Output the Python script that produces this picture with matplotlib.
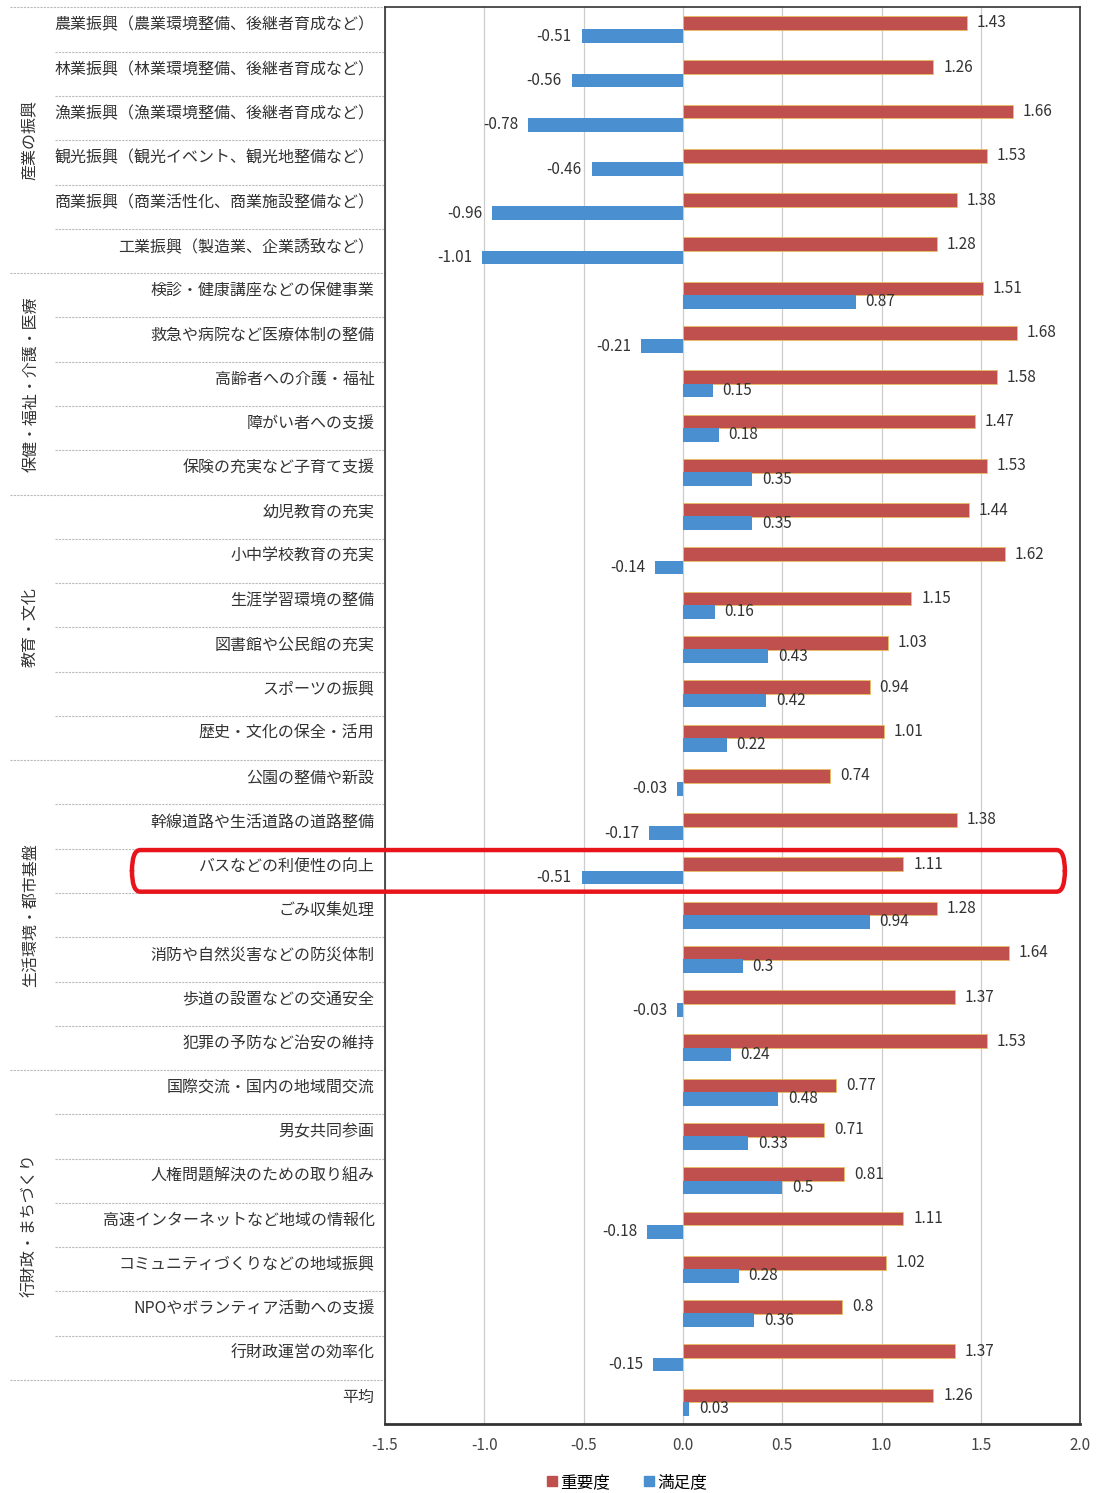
import numpy as np
import matplotlib.pyplot as plt
from matplotlib.patches import FancyBboxPatch, Patch
from matplotlib.transforms import blended_transform_factory

plt.rcParams['font.family'] = ['Noto Sans CJK JP', 'DejaVu Sans']

categories = [
    "農業振興（農業環境整備、後継者育成など）",
    "林業振興（林業環境整備、後継者育成など）",
    "漁業振興（漁業環境整備、後継者育成など）",
    "観光振興（観光イベント、観光地整備など）",
    "商業振興（商業活性化、商業施設整備など）",
    "工業振興（製造業、企業誘致など）",
    "検診・健康講座などの保健事業",
    "救急や病院など医療体制の整備",
    "高齢者への介護・福祉",
    "障がい者への支援",
    "保険の充実など子育て支援",
    "幼児教育の充実",
    "小中学校教育の充実",
    "生涯学習環境の整備",
    "図書館や公民館の充実",
    "スポーツの振興",
    "歴史・文化の保全・活用",
    "公園の整備や新設",
    "幹線道路や生活道路の道路整備",
    "バスなどの利便性の向上",
    "ごみ収集処理",
    "消防や自然災害などの防災体制",
    "歩道の設置などの交通安全",
    "犯罪の予防など治安の維持",
    "国際交流・国内の地域間交流",
    "男女共同参画",
    "人権問題解決のための取り組み",
    "高速インターネットなど地域の情報化",
    "コミュニティづくりなどの地域振興",
    "NPOやボランティア活動への支援",
    "行財政運営の効率化",
    "平均",
]

importance = [1.43, 1.26, 1.66, 1.53, 1.38, 1.28, 1.51, 1.68, 1.58, 1.47, 1.53,
              1.44, 1.62, 1.15, 1.03, 0.94, 1.01, 0.74, 1.38, 1.11, 1.28, 1.64,
              1.37, 1.53, 0.77, 0.71, 0.81, 1.11, 1.02, 0.8, 1.37, 1.26]
satisfaction = [-0.51, -0.56, -0.78, -0.46, -0.96, -1.01, 0.87, -0.21, 0.15, 0.18, 0.35,
                0.35, -0.14, 0.16, 0.43, 0.42, 0.22, -0.03, -0.17, -0.51, 0.94, 0.3,
                -0.03, 0.24, 0.48, 0.33, 0.5, -0.18, 0.28, 0.36, -0.15, 0.03]

# (group name, first row, last row)
groups = [
    ("産業の振興", 0, 5),
    ("保健・福祉・介護・医療", 6, 10),
    ("教育・文化", 11, 16),
    ("生活環境・都市基盤", 17, 23),
    ("行財政・まちづくり", 24, 30),
]
highlight_row = 19

xticks = [-1.5, -1.0, -0.5, 0.0, 0.5, 1.0, 1.5, 2.0]

red = "#c0504d"
blue = "#4a8fd0"

fig = plt.figure(figsize=(11, 14.93), dpi=100)
ax = fig.add_axes([0.35, 0.046, 0.632, 0.949])

n = len(categories)
y = np.arange(n)
h = 0.31
off = 0.15

ax.barh(y - off, importance, height=h, color=red, edgecolor="#e8c060", linewidth=0.6, zorder=3)
ax.barh(y + off, satisfaction, height=h, color=blue, zorder=3)

for i in range(n):
    v = importance[i]
    ax.text(v + 0.05, i - off, f"{v:g}", va="center", ha="left", fontsize=11, color="#333333")
    s = satisfaction[i]
    if s < 0:
        ax.text(s - 0.05, i + off, f"{s:g}", va="center", ha="right", fontsize=11, color="#333333")
    else:
        ax.text(s + 0.05, i + off, f"{s:g}", va="center", ha="left", fontsize=11, color="#333333")

ax.set_xlim(-1.5, 2.0)
ax.set_ylim(n - 0.5, -0.5)
ax.set_xticks(xticks)
ax.set_xticklabels([f"{t:.1f}" for t in xticks], fontsize=11, color="#444444")
ax.tick_params(axis="x", length=0, pad=9)
ax.set_yticks([])
ax.grid(axis="x", color="#cccccc", linewidth=0.9, zorder=0)
for sp in ax.spines.values():
    sp.set_color("#333333")
    sp.set_linewidth(1.2)
ax.spines["bottom"].set_linewidth(2)

trans = blended_transform_factory(ax.transAxes, ax.transData)

# category labels
for i, c in enumerate(categories):
    ax.text(-0.015, i - 0.1, c, transform=trans, ha="right", va="center",
            fontsize=11.5, color="#333333")

# row separators in the label area
group_starts = [g[1] for g in groups] + [n - 1]
for b in range(1, n):
    x0 = -0.54 if b in group_starts else -0.475
    ax.plot([x0, 0], [b - 0.5, b - 0.5], transform=trans, clip_on=False,
            color="#bbbbbb", linewidth=0.8, linestyle=(0, (2, 1)))
ax.plot([-0.54, 0], [-0.5, -0.5], transform=trans, clip_on=False,
        color="#bbbbbb", linewidth=0.8, linestyle=(0, (2, 1)))

# group labels
for name, a, b in groups:
    ax.text(-0.51, (a + b) / 2, name, transform=trans, rotation=90,
            ha="center", va="center", fontsize=11.5, color="#333333")

# highlight box
box = FancyBboxPatch((-0.364, highlight_row - 0.47), 1.342, 0.94,
                     boxstyle="round,pad=0,rounding_size=0.012",
                     transform=trans, clip_on=False, fill=False,
                     edgecolor="#e8141c", linewidth=3.2, zorder=5,
                     mutation_aspect=40)
ax.add_patch(box)

handles = [Patch(color=red, label="重要度"), Patch(color=blue, label="満足度")]
fig.legend(handles=handles, loc="center", bbox_to_anchor=(0.57, 0.007), ncol=2,
           frameon=False, fontsize=12, handlelength=0.6, handleheight=0.6,
           handletextpad=0.2, columnspacing=2.0)

fig.savefig("out.png", dpi=100)
